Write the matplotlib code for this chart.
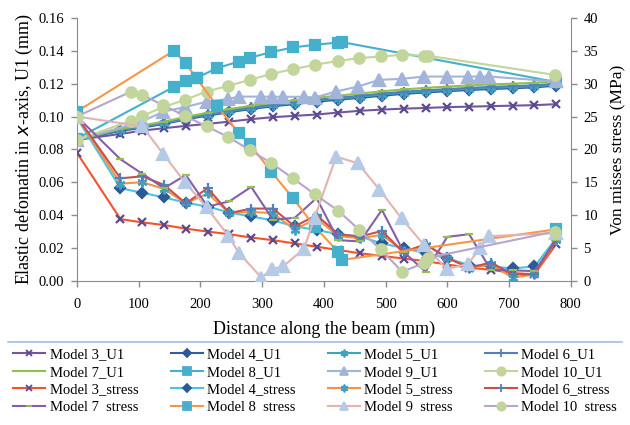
import matplotlib
matplotlib.use("Agg")
import matplotlib.pyplot as plt
from matplotlib.lines import Line2D

plt.rcParams['font.family'] = ['Liberation Serif', 'DejaVu Serif']

# ---------------- data ----------------
G = [0, 70.6, 105.9, 141.2, 176.5, 211.8, 247.1, 282.4, 317.6, 352.9, 388.2,
     423.5, 458.8, 494.1, 529.4, 564.7, 600.0, 635.3, 670.6, 705.9, 741.2, 776.5]
x8 = [0, 157, 176, 194, 227, 262, 280, 315, 350, 385, 423, 430, 776]
x9 = [0, 106, 140, 175, 210, 245, 262, 299, 316, 334, 368, 385, 420, 455, 490,
      526, 562, 599, 634, 653, 668, 776]
x10 = [0, 88, 106, 140, 175, 210, 245, 280, 315, 350, 385, 423, 457, 492, 527,
       562, 568, 774]

u1_m3 = [0.0858, 0.0894, 0.0914, 0.0929, 0.0943, 0.0955, 0.0969, 0.0984, 0.0996, 0.1004, 0.1012,
         0.1024, 0.1035, 0.1042, 0.1048, 0.1052, 0.1057, 0.1060, 0.1063, 0.1066, 0.1069, 0.1075]
u1_m4 = [0.0858, 0.0912, 0.0932, 0.0955, 0.0982, 0.1006, 0.1026, 0.1046, 0.1062, 0.1076, 0.1090,
         0.1102, 0.1114, 0.1126, 0.1138, 0.1146, 0.1154, 0.1161, 0.1167, 0.1172, 0.1177, 0.1188]
u1_m5 = [0.0858, 0.0918, 0.0938, 0.0960, 0.0988, 0.1012, 0.1032, 0.1052, 0.1068, 0.1083, 0.1097,
         0.1109, 0.1121, 0.1133, 0.1145, 0.1153, 0.1161, 0.1168, 0.1174, 0.1179, 0.1184, 0.1195]
u1_m6 = [0.0858, 0.0922, 0.0942, 0.0964, 0.0992, 0.1016, 0.1037, 0.1057, 0.1073, 0.1088, 0.1102,
         0.1114, 0.1127, 0.1139, 0.1151, 0.1159, 0.1167, 0.1174, 0.1180, 0.1185, 0.1190, 0.1200]
u1_m7 = [0.0858, 0.0925, 0.0946, 0.0969, 0.0998, 0.1023, 0.1045, 0.1066, 0.1083, 0.1099, 0.1114,
         0.1127, 0.1140, 0.1153, 0.1165, 0.1174, 0.1182, 0.1189, 0.1195, 0.1200, 0.1205, 0.1215]
u1_m8 = [0.0865, 0.1180, 0.1213, 0.1235, 0.1294, 0.1334, 0.1357, 0.1392, 0.1420, 0.1436,
         0.1450, 0.1452, 0.1210]
u1_m9 = [0.0858, 0.0970, 0.1030, 0.1057, 0.1090, 0.1107, 0.1121, 0.1121, 0.1120, 0.1120, 0.1120,
         0.1115, 0.1152, 0.1182, 0.1223, 0.1229, 0.1243, 0.1243, 0.1243, 0.1243, 0.1243, 0.1213]
u1_m10 = [0.0858, 0.0975, 0.1004, 0.1057, 0.1101, 0.1152, 0.1186, 0.1223, 0.1259, 0.1288, 0.1314,
          0.1338, 0.1355, 0.1365, 0.1375, 0.1370, 0.1370, 0.1253]

s_m3 = [19.5, 9.4, 8.9, 8.5, 7.95, 7.5, 7.1, 6.6, 6.2, 5.7, 5.2,
        4.7, 4.2, 3.8, 3.4, 3.0, 2.5, 2.0, 1.7, 1.2, 1.0, 5.6]
s_m4 = [24.8, 14.1, 13.4, 12.7, 11.9, 11.3, 10.4, 9.8, 9.2, 8.3, 7.75,
        7.1, 6.75, 5.7, 5.0, 4.2, 3.45, 2.4, 2.2, 1.9, 2.2, 6.5]
s_m5 = [25.0, 14.8, 15.0, 14.0, 11.8, 13.3, 10.3, 10.5, 10.3, 7.8, 9.5,
        6.8, 6.5, 7.0, 4.5, 5.5, 3.5, 2.0, 2.5, 0.5, 1.0, 6.2]
s_m6 = [25.0, 15.6, 15.9, 14.6, 11.8, 14.1, 10.3, 11.0, 11.0, 8.3, 10.0,
        7.1, 6.75, 7.6, 4.3, 5.6, 3.5, 2.0, 2.8, 1.0, 1.0, 6.5]
s_m7 = [25.0, 18.5, 16.3, 14.1, 16.1, 11.3, 12.1, 14.3, 9.3, 9.6, 12.6,
        6.2, 6.0, 10.8, 4.4, 1.4, 6.7, 7.1, 1.7, 1.6, 1.5, 6.2]
s_m8 = [25.75, 35.0, 33.1, 30.8, 26.6, 22.5, 20.8, 16.6, 12.6, 8.25, 4.45, 3.2, 7.85]
s_m9 = [25.0, 23.5, 19.3, 15.0, 11.2, 6.9, 4.3, 0.5, 1.8, 2.2, 4.9, 9.6,
        18.9, 17.9, 13.9, 9.5, 5.5, 1.8, 2.6, 5.0, 6.8, 7.3]
s_m10 = [25.0, 28.8, 28.3, 26.7, 25.1, 23.5, 21.9, 19.9, 17.9, 15.6, 13.2,
         10.7, 7.8, 4.8, 1.4, 2.7, 3.5, 7.5]

u1_series = [
    ("Model 3_U1", G, u1_m3, '#7356A0', 'x', '#5E4A8E', 6),
    ("Model 4_U1", G, u1_m4, '#2F5F9E', 'D', '#2C5A96', 5),
    ("Model 5_U1", G, u1_m5, '#3FA3BE', (6, 2, 0), '#3FA3BE', 7),
    ("Model 6_U1", G, u1_m6, '#4F81BD', '+', '#4F81BD', 7),
    ("Model 7_U1", G, u1_m7, '#92C050', '_', '#92C050', 6),
    ("Model 8_U1", x8, u1_m8, '#45B0CC', 's', '#45B0CC', 6.5),
    ("Model 9_U1", x9, u1_m9, '#A3B4DB', '^', '#A3B4DB', 8),
    ("Model 10_U1", x10, u1_m10, '#C2D69B', 'o', '#C2D69B', 7.5),
]
s_series = [
    ("Model 3_stress", G, s_m3, '#F3532C', 'x', '#5E4A8E', 6),
    ("Model 4_stress", G, s_m4, '#4CC3E3', 'D', '#2C5A96', 5),
    ("Model 5_stress", G, s_m5, '#F39444', (6, 2, 0), '#3FA3BE', 7),
    ("Model 6_stress", G, s_m6, '#C9504A', '+', '#4F81BD', 7),
    ("Model 7  stress", G, s_m7, '#8460A8', '_', '#92C050', 6),
    ("Model 8  stress", x8, s_m8, '#F79646', 's', '#45B0CC', 6.5),
    ("Model 9  stress", x9, s_m9, '#E3B3B0', '^', '#B5CAE6', 8),
    ("Model 10  stress", x10, s_m10, '#B7A5CC', 'o', '#C2D69B', 7.5),
]

# ---------------- figure ----------------
fig = plt.figure(figsize=(6.3, 4.25), dpi=100)
ax = fig.add_axes([0.122, 0.339, 0.784, 0.619])
ax2 = ax.twinx()

handles = {}
for lab, xs, ys, lc, mk, mc, ms in u1_series:
    h, = ax.plot(xs, ys, color=lc, lw=1.5, marker=mk, markersize=ms,
                 markerfacecolor=mc, markeredgecolor=mc, markeredgewidth=1.6)
    handles[lab] = h
for lab, xs, ys, lc, mk, mc, ms in s_series:
    h, = ax2.plot(xs, ys, color=lc, lw=1.5, marker=mk, markersize=ms,
                  markerfacecolor=mc, markeredgecolor=mc, markeredgewidth=1.6)
    handles[lab] = h

ax.set_xlim(0, 800)
ax.set_ylim(0, 0.16)
ax2.set_ylim(0, 40)
ax.set_xticks(range(0, 801, 100))
ax.set_yticks([0, 0.02, 0.04, 0.06, 0.08, 0.10, 0.12, 0.14, 0.16])
ax.set_yticklabels(['0.00', '0.02', '0.04', '0.06', '0.08', '0.10', '0.12', '0.14', '0.16'])
ax2.set_yticks(range(0, 41, 5))

spc = '#8C8C8C'
for a in (ax, ax2):
    for s in a.spines.values():
        s.set_color(spc)
    a.spines['top'].set_visible(False)
    a.tick_params(colors='black', labelsize=10.5, length=4, width=1, direction='out')
    a.tick_params(axis='both', color=spc)
ax.tick_params(axis='x', pad=8)
ax.tick_params(axis='y', pad=5)
ax2.tick_params(axis='y', pad=5)
ax.spines['right'].set_visible(False)
ax2.spines['left'].set_visible(False)
ax2.spines['bottom'].set_visible(False)

ax.set_xlabel('Distance along the beam (mm)', fontsize=13, labelpad=7)
ax.set_ylabel('Elastic defomatin in $\\mathit{x}$-axis, U1 (mm)', fontsize=13, labelpad=3)
ax2.set_ylabel('Von misses stress (MPa)', fontsize=12.5, labelpad=9)

# legend (row-major in the picture -> column-major order for matplotlib)
rows = [[s[0] for s in u1_series[:4]], [s[0] for s in u1_series[4:]],
        [s[0] for s in s_series[:4]], [s[0] for s in s_series[4:]]]
order = [rows[r][c] for c in range(4) for r in range(4)]
leg_handles = []
for lab in order:
    h = handles[lab]
    leg_handles.append(Line2D([], [], color=h.get_color(), lw=1.5, marker=h.get_marker(),
                              markersize=h.get_markersize() * 0.8,
                              markerfacecolor=h.get_markerfacecolor(),
                              markeredgecolor=h.get_markeredgecolor(), markeredgewidth=1.3))
fig.legend(leg_handles, order, loc='upper left', bbox_to_anchor=(0.012, 1 - 342 / 425),
           ncol=4, frameon=False, fontsize=10.5, handlelength=2.2, handletextpad=0.3,
           columnspacing=2.2, labelspacing=0.3, borderaxespad=0)

fig.add_artist(Line2D([0.013, 0.988], [1 - 342 / 425, 1 - 342 / 425], color='#A7BFDE',
                      lw=1.2, transform=fig.transFigure))

fig.savefig('out.png', dpi=100)
